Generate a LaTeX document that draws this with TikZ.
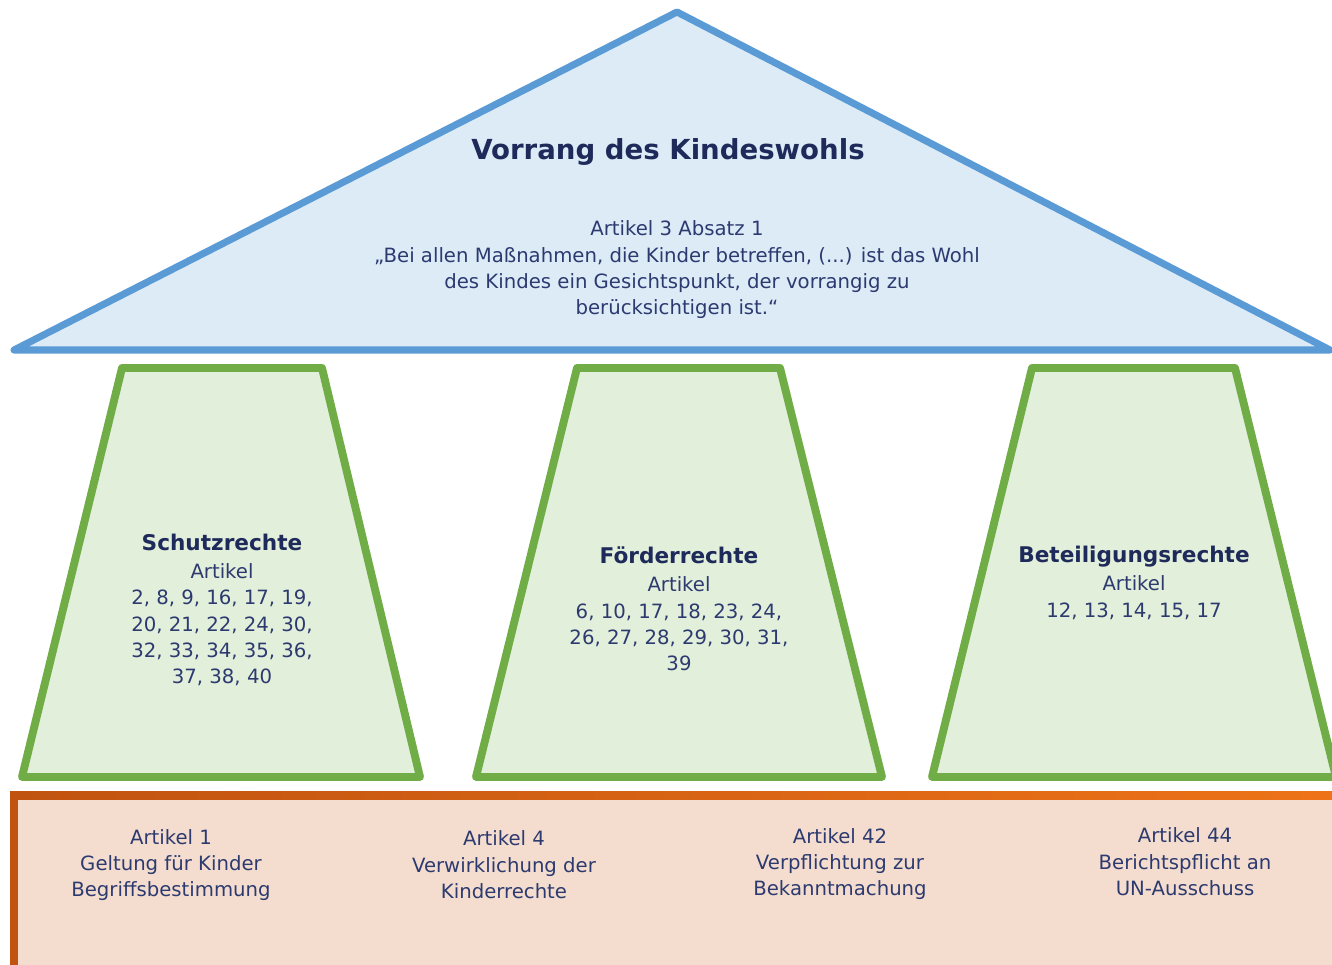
\documentclass[tikz,border=0pt]{standalone}
\usepackage{fontspec}
\setmainfont{DejaVu Sans}
\usepackage{xcolor}
\usetikzlibrary{positioning}

\definecolor{roofline}{RGB}{91,155,213}
\definecolor{rooffill}{RGB}{221,235,247}
\definecolor{pillarline}{RGB}{112,173,71}
\definecolor{pillarfill}{RGB}{226,239,218}
\definecolor{baseleft}{RGB}{192,83,16}
\definecolor{baseright}{RGB}{238,115,24}
\definecolor{basefill}{RGB}{244,221,206}
\definecolor{bodytext}{RGB}{44,58,112}
\definecolor{headtext}{RGB}{30,42,90}

\begin{document}
\begin{tikzpicture}[
  x=0.02cm, y=-0.02cm,
  roof/.style={draw=roofline,fill=rooffill,line width=4pt,line join=round},
  pillar/.style={draw=pillarline,fill=pillarfill,line width=4.5pt,line join=round},
  body/.style={align=center,text=bodytext,font=\fontsize{11.2}{15}\selectfont,inner sep=0pt},
  title/.style={align=center,text=headtext,font=\fontsize{15.7}{18}\selectfont\bfseries,inner sep=0pt}
]
\useasboundingbox (0,0) rectangle (1332,964);

% roof
\draw[roof] (677,12) -- (1330,350) -- (14,350) -- cycle;
\node[title] (roofhead) at (668,152) {Vorrang des Kindeswohls};
\node[body] (roofquote) at (677,270) {Artikel 3 Absatz 1\\
  „Bei allen Maßnahmen, die Kinder betreffen, (...) ist das Wohl\\
  des Kindes ein Gesichtspunkt, der vorrangig zu\\
  berücksichtigen ist.“};

% pillars
\draw[pillar] (122,368) -- (322,368) -- (420,777) -- (22,777) -- cycle;
\draw[pillar] (577,368) -- (780,368) -- (882,777) -- (476,777) -- cycle;
\draw[pillar] (1032,368) -- (1235,368) -- (1336,777) -- (932,777) -- cycle;

\node[body] (schutz) at (222,610) {{\bfseries\fontsize{12.3}{15}\selectfont\color{headtext}Schutzrechte}\\[1pt]
  Artikel\\ 2, 8, 9, 16, 17, 19,\\ 20, 21, 22, 24, 30,\\ 32, 33, 34, 35, 36,\\ 37, 38, 40};
\node[body] (foerder) at (679,609) {{\bfseries\fontsize{12.3}{15}\selectfont\color{headtext}Förderrechte}\\[1pt]
  Artikel\\ 6, 10, 17, 18, 23, 24,\\ 26, 27, 28, 29, 30, 31,\\ 39};
\node[body] (beteil) at (1134,583) {{\bfseries\fontsize{12.3}{15}\selectfont\color{headtext}Beteiligungsrechte}\\[1pt]
  Artikel\\ 12, 13, 14, 15, 17};

% base
\fill[basefill] (14,795) rectangle (1345,980);
\shade[left color=baseleft,right color=baseright] (10,791) rectangle (1345,799);
\fill[baseleft] (10,791) rectangle (18,980);

\node[body] (art1) at (171,865) {Artikel 1\\ Geltung für Kinder\\ Begriffsbestimmung};
\node[body] (art4) at (504,865) {Artikel 4\\ Verwirklichung der\\ Kinderrechte};
\node[body] (art42) at (840,864) {Artikel 42\\ Verpflichtung zur\\ Bekanntmachung};
\node[body] (art44) at (1185,862) {Artikel 44\\ Berichtspflicht an\\ UN-Ausschuss};

\end{tikzpicture}
\end{document}
